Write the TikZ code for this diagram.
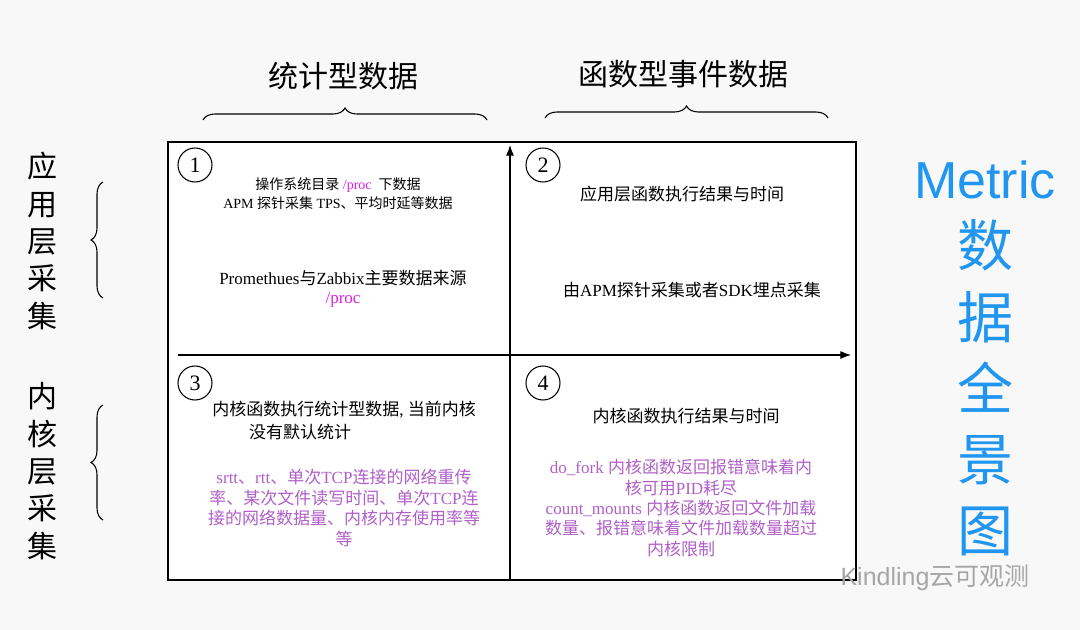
\documentclass[tikz,border=0pt]{standalone}
\usepackage{fontspec}
\setmainfont{Liberation Serif}
\newfontfamily\cjk{Noto Sans CJK SC}
\newfontfamily\sanslat{Liberation Sans}
\newcommand{\zh}[1]{{\cjk #1}}
\newcommand{\fsz}[1]{\fontsize{\the\dimexpr #1pt*3/4\relax}{\the\dimexpr #1pt*9/10\relax}\selectfont}
\usetikzlibrary{decorations.pathreplacing,arrows.meta}
\definecolor{mag}{HTML}{E020E0}
\definecolor{pur}{HTML}{B060C8}
\definecolor{blu}{HTML}{2196F0}
\definecolor{bg}{HTML}{F8F8F8}
\begin{document}
\begin{tikzpicture}[x=0.75pt,y=-0.75pt,
  fs/.style={font=\fsz{#1}},
  num/.style={circle,draw,line width=0.8pt,minimum size=25.5pt,inner sep=0pt,fs=22},
  br/.style={decorate,decoration={brace,amplitude=9pt},line width=0.8pt},
  ax/.style={-{Latex[length=8pt,width=6pt]},line width=0.8pt}]
\fill[bg] (0,0) rectangle (1080,630);
\useasboundingbox (0,0) rectangle (1080,630);
\node[draw,line width=1pt,fill=white,minimum width=516pt,minimum height=328.5pt,inner sep=0pt] (box) at (512,361) {};
\coordinate (vb) at (510,580); \coordinate (vt) at (510,145);
\coordinate (hl) at (178,355); \coordinate (hr) at (851,355);
\draw[ax] (vb) -- (vt);
\draw[ax] (hl) -- (hr);
% headers
\node[fs=30] (h1) at (343,76) {\zh{统计型数据}};
\node[fs=30] (h2) at (683,74) {\zh{函数型事件数据}};
\draw[br] (203,120) coordinate (b1a) -- (487,120) coordinate (b1b);
\draw[br] (545,118) coordinate (b2a) -- (828,118) coordinate (b2b);
% left labels
\node[fs=30,align=center,text width=30pt] (l1) at (42,241) {\zh{应}\\[1pt]\zh{用}\\[1pt]\zh{层}\\[1pt]\zh{采}\\[1pt]\zh{集}};
\node[fs=30,align=center,text width=30pt] (l2) at (42,471) {\zh{内}\\[1pt]\zh{核}\\[1pt]\zh{层}\\[1pt]\zh{采}\\[1pt]\zh{集}};
\draw[br] (103,298) -- (103,182);
\draw[br] (103,520) -- (103,405);
% right title
\node[text=blu,font=\sanslat\fsz{52}] (m) at (985,180) {Metric};
\node[fs=56,text=blu,align=center] (m2) at (985,388) {\zh{数}\\[3pt]\zh{据}\\[3pt]\zh{全}\\[3pt]\zh{景}\\[3pt]\zh{图}};
% circles
\node[num] (c1) at (195,165) {1};
\node[num] (c2) at (543,165) {2};
\node[num] (c3) at (195,383) {3};
\node[num] (c4) at (543,383) {4};
% Q1
\node[fs=14] (t11) at (338,185) {\zh{操作系统目录} \textcolor{mag}{/proc} \ \zh{下数据}};
\node[fs=14] (t12) at (338,203) {APM \zh{探针采集} TPS\zh{、平均时延等数据}};
\node[fs=17] (t13) at (343,278) {Promethues\zh{与}Zabbix\zh{主要数据来源}};
\node[fs=17,text=mag] (t14) at (343,300) {/proc};
% Q2
\node[fs=17] (t21) at (682,194) {\zh{应用层函数执行结果与时间}};
\node[fs=17] (t22) at (692,290) {\zh{由}APM\zh{探针采集或者}SDK\zh{埋点采集}};
% Q3
\node[fs=17] (t31) at (344,410) {\zh{内核函数执行统计型数据}, \zh{当前内核}};
\node[fs=17] (t32) at (300,432) {\zh{没有默认统计}};
\node[fs=17,text=pur,align=center] (t33) at (344,508) {srtt\zh{、}rtt\zh{、单次}TCP\zh{连接的网络重传}\\\zh{率、某次文件读写时间、单次}TCP\zh{连}\\\zh{接的网络数据量、内核内存使用率等}\\\zh{等}};
% Q4
\node[fs=17] (t41) at (686,416) {\zh{内核函数执行结果与时间}};
\node[fs=17,text=pur,align=center] (t42) at (681,508) {do\_fork \zh{内核函数返回报错意味着内}\\\zh{核可用}PID\zh{耗尽}\\count\_mounts \zh{内核函数返回文件加载}\\\zh{数量、报错意味着文件加载数量超过}\\\zh{内核限制}};
% watermark
\node[text=black!35,font=\sanslat\fsz{25}] (wm) at (935,578) {Kindling\zh{云可观测}};
\end{tikzpicture}
\end{document}
